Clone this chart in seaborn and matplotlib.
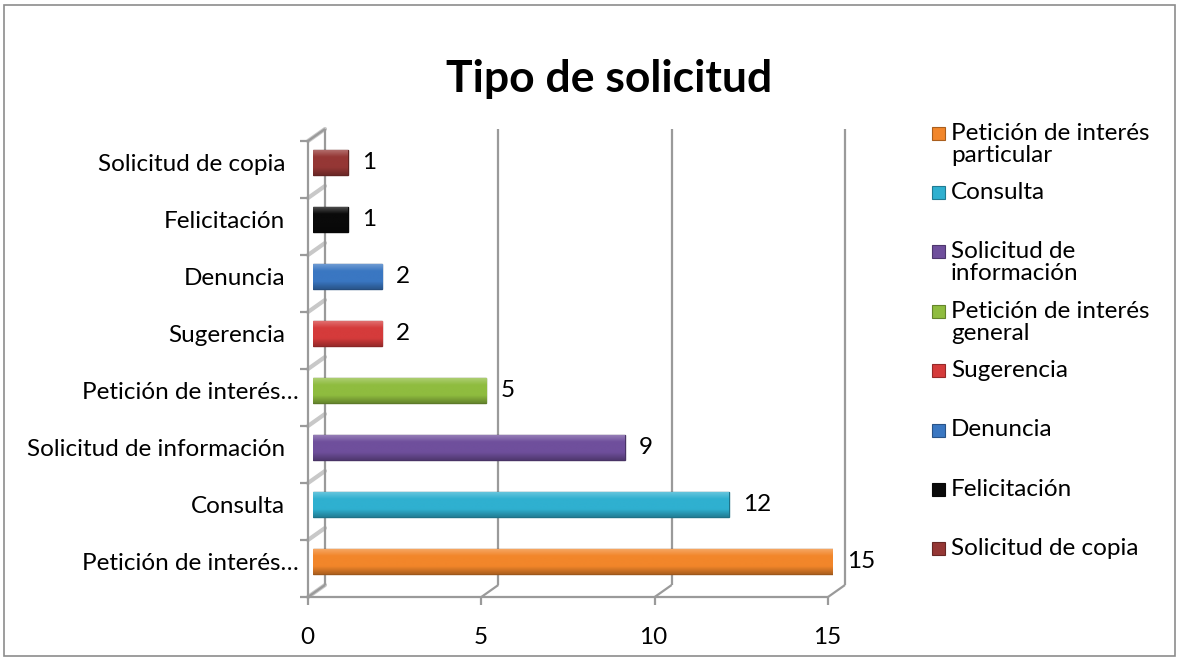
import numpy as np
import seaborn as sns
import matplotlib.pyplot as plt
import matplotlib.transforms as mtransforms
from matplotlib.patches import Rectangle
import matplotlib.colors as mcolors

# Datos (de arriba hacia abajo en el gráfico)
categorias = ['Solicitud de copia', 'Felicitación', 'Denuncia', 'Sugerencia',
              'Petición de interés general', 'Solicitud de información',
              'Consulta', 'Petición de interés particular']
etiquetas_eje = ['Solicitud de copia', 'Felicitación', 'Denuncia', 'Sugerencia',
                 'Petición de interés…', 'Solicitud de información',
                 'Consulta', 'Petición de interés…']
cantidades = [1, 1, 2, 2, 5, 9, 12, 15]
colores = ['#953735', '#0a0a0a', '#3a77c2', '#d53b3b', '#8fbc3f',
           '#6f4f9c', '#2fb0d0', '#f2862a']
# leyenda (orden de la serie)
leyenda_textos = ['Petición de interés\nparticular', 'Consulta',
                  'Solicitud de\ninformación', 'Petición de interés\ngeneral',
                  'Sugerencia', 'Denuncia', 'Felicitación', 'Solicitud de copia']
leyenda_colores = list(reversed(colores))
ticks_x = [0, 5, 10, 15]

W, H = 1179, 660
FONT = 'Lato'
FS = 17.5
GRIS = '#9a9a9a'

sns.set_style('white')
plt.rcParams['font.family'] = [FONT, 'DejaVu Sans']
plt.rcParams['text.color'] = 'black'
plt.rcParams['xtick.color'] = 'black'
plt.rcParams['ytick.color'] = 'black'

fig = plt.figure(figsize=(W / 100, H / 100), dpi=100)

# borde exterior
fig.patches.append(Rectangle((4 / W, 4 / H), 1 - 8 / W, 1 - 9 / H,
                             transform=fig.transFigure, fill=False,
                             edgecolor='#8c8c8c', linewidth=1.2))

# ejes: 0 -> 313 px, 15 -> 833 px ; y de 134 a 590 px
x0, x1 = 313, 833
ytop, ybot = 134, 590
ax = fig.add_axes([x0 / W, 1 - ybot / H, (x1 - x0) / W, (ybot - ytop) / H])
ax.patch.set_alpha(0)

sns.barplot(x=cantidades, y=categorias, hue=categorias, palette=colores,
            order=categorias, hue_order=categorias, orient='h', width=0.44,
            legend=False, ax=ax, zorder=3, saturation=1)

# degradado para simular el relieve de las barras
for p, c in zip(ax.patches, colores):
    rgb = np.array(mcolors.to_rgb(c))
    p.set_edgecolor(tuple(rgb * 0.65))
    p.set_linewidth(1.0)
    bx, by = p.get_x(), p.get_y()
    bw, bh = p.get_width(), p.get_height()
    t = np.linspace(0, 1, 64)
    claro = np.clip(rgb + (1 - rgb) * 0.3, 0, 1)
    oscuro = rgb * 0.72
    filas = []
    for v in t:
        if v < 0.3:
            f = claro + (rgb - claro) * (v / 0.3)
        elif v < 0.7:
            f = rgb
        else:
            f = rgb + (oscuro - rgb) * ((v - 0.7) / 0.3)
        filas.append(f)
    img = np.array(filas)[:, None, :]
    im = ax.imshow(img, extent=(bx, bx + bw, by + bh, by), aspect='auto',
                   zorder=3.5, interpolation='bilinear')
    im.set_clip_path(p)

for cont in ax.containers:
    ax.bar_label(cont, padding=10, fontsize=FS, color='black')

ax.set_xlim(0, 15)
ax.set_ylim(7.5, -0.5)
for s in ax.spines.values():
    s.set_visible(False)
ax.set_xlabel('')
ax.set_ylabel('')

ax.set_yticks(range(len(categorias)))
ax.set_yticklabels(etiquetas_eje, fontsize=FS)
ax.tick_params(axis='y', length=0, pad=10)
# las etiquetas completas quedan un poco mas a la izquierda (espacio final)
corr = mtransforms.ScaledTranslation(-14 / 100, 0, fig.dpi_scale_trans)
for lbl in ax.get_yticklabels():
    if not lbl.get_text().endswith('…'):
        lbl.set_transform(lbl.get_transform() + corr)

ax.set_xticks(ticks_x)
ax.set_xticklabels([str(t) for t in ticks_x], fontsize=FS)
ax.tick_params(axis='x', length=0, pad=27)
desp = mtransforms.ScaledTranslation(-6 / 100, 0, fig.dpi_scale_trans)
for lbl in ax.get_xticklabels():
    lbl.set_transform(lbl.get_transform() + desp)

# marco 3D (plano frontal y plano trasero)
frente = ax.transData + mtransforms.ScaledTranslation(-5 / 100, -7 / 100, fig.dpi_scale_trans)
fondo = ax.transData + mtransforms.ScaledTranslation(12 / 100, 5 / 100, fig.dpi_scale_trans)
kw = dict(color=GRIS, linewidth=1.6, clip_on=False, solid_capstyle='butt')

# pared izquierda
ax.plot([0, 0], [-0.5, 7.5], transform=fondo, **kw)
ax.plot([0, 0], [-0.5, 7.5], transform=frente, **kw)
ax.plot([0, 15], [7.5, 7.5], transform=frente, **kw)
for yb in np.arange(-0.5, 8.0, 1.0):
    xa, ya = frente.transform((0, yb))
    xb, yb2 = fondo.transform((0, yb))
    ax.plot([xa - 8, xa], [ya, ya], transform=None, **kw)
    ax.plot([xa, xb], [ya, yb2], transform=None, color='#c8c8c8',
            linewidth=3, clip_on=False, zorder=1)
xa, ya = frente.transform((0, -0.5))
xb, yb2 = fondo.transform((0, -0.5))
ax.plot([xa, xb], [ya, yb2], transform=None, **kw)

# lineas de cuadricula (plano trasero) y diagonales del piso
for t in ticks_x:
    if t > 0:
        ax.plot([t, t], [-0.5, 7.5], transform=fondo, **kw)
    xa, ya = frente.transform((t, 7.5))
    xb, yb2 = fondo.transform((t, 7.5))
    ax.plot([xa, xb], [ya, yb2], transform=None, **kw)
    ax.plot([xa, xa], [ya, ya - 8], transform=None, **kw)

# titulo
fig.text(609 / W, 1 - 79 / H, 'Tipo de solicitud', ha='center', va='center',
         fontsize=32, fontweight='bold', color='black',
         family=[FONT, 'DejaVu Sans'])

# leyenda manual
for i, (txt, col) in enumerate(zip(leyenda_textos, leyenda_colores)):
    yc = 133 + i * 59.4
    rgb = np.array(mcolors.to_rgb(col))
    fig.patches.append(Rectangle((932 / W, 1 - (yc + 6.5) / H), 13 / W, 13 / H,
                                 transform=fig.transFigure, facecolor=col,
                                 edgecolor=tuple(rgb * 0.7), linewidth=0.8))
    fig.text(951 / W, 1 - yc / H, txt.split('\n')[0], ha='left', va='center',
             fontsize=FS)
    if '\n' in txt:
        fig.text(951 / W, 1 - (yc + 22) / H, txt.split('\n')[1], ha='left',
                 va='center', fontsize=FS)

fig.savefig('out.png', dpi=100)
